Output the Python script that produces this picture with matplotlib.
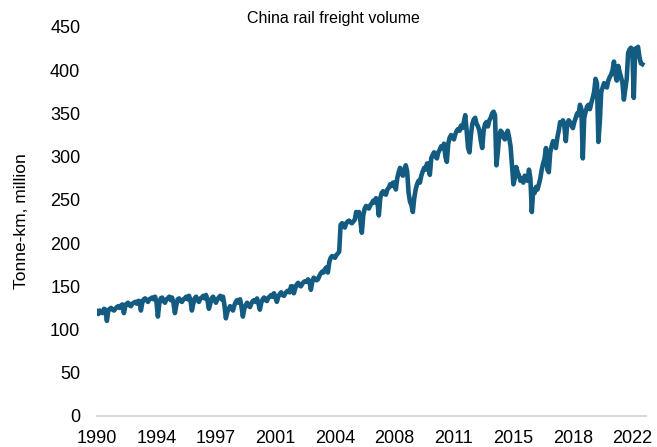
"""
China rail freight volume, monthly, 1990-2022
"""
import numpy as np
import matplotlib
matplotlib.use('Agg')
import matplotlib.pyplot as plt

plt.rcParams['font.family'] = ['Liberation Sans', 'DejaVu Sans']

# Monthly volumes (tonne-km, million); series starts Jul 1990
vol_1990 = [121, 118, 122, 120, 119, 124]
vol_1991 = [123, 110, 122, 124, 125, 123, 122, 124, 126, 127, 125, 128]
vol_1992 = [129, 119, 127, 130, 131, 128, 127, 130, 131, 132, 130, 133]
vol_1993 = [133, 122, 131, 135, 136, 134, 132, 135, 136, 137, 135, 138]
vol_1994 = [132, 115, 130, 136, 137, 133, 131, 135, 136, 138, 134, 137]
vol_1995 = [131, 119, 128, 135, 136, 133, 132, 135, 136, 138, 135, 139]
vol_1996 = [134, 122, 130, 136, 138, 134, 132, 136, 137, 139, 136, 140]
vol_1997 = [134, 124, 130, 136, 138, 134, 131, 135, 137, 139, 135, 138]
vol_1998 = [128, 113, 120, 124, 127, 125, 122, 128, 132, 134, 131, 135]
vol_1999 = [127, 115, 124, 128, 131, 128, 126, 130, 133, 134, 132, 136]
vol_2000 = [130, 123, 131, 135, 137, 134, 133, 137, 138, 140, 138, 142]
vol_2001 = [137, 132, 138, 141, 143, 140, 139, 142, 144, 145, 143, 150]
vol_2002 = [150, 142, 148, 152, 154, 151, 150, 153, 155, 156, 155, 158]
vol_2003 = [156, 146, 155, 160, 159, 157, 158, 162, 165, 167, 166, 170]
vol_2004 = [172, 166, 178, 183, 185, 184, 183, 186, 188, 190, 221, 223]
vol_2005 = [222, 218, 223, 225, 226, 224, 223, 225, 227, 236, 232, 236]
vol_2006 = [225, 212, 232, 240, 243, 241, 240, 244, 246, 249, 247, 252]
vol_2007 = [248, 232, 252, 258, 260, 257, 256, 262, 264, 268, 266, 270]
vol_2008 = [270, 262, 275, 282, 287, 280, 278, 285, 290, 283, 258, 248]
vol_2009 = [244, 236, 252, 262, 268, 272, 270, 278, 283, 287, 285, 292]
vol_2010 = [292, 279, 298, 302, 305, 300, 298, 305, 308, 312, 310, 315]
vol_2011 = [300, 294, 315, 322, 325, 322, 320, 326, 330, 332, 330, 336]
vol_2012 = [333, 340, 348, 330, 310, 305, 325, 338, 343, 345, 338, 335]
vol_2013 = [330, 318, 310, 330, 338, 340, 335, 342, 345, 350, 352, 348]
vol_2014 = [290, 305, 325, 330, 328, 322, 320, 326, 330, 322, 312, 290]
vol_2015 = [268, 275, 288, 282, 278, 272, 275, 270, 278, 276, 272, 285]
vol_2016 = [275, 236, 262, 258, 265, 262, 268, 275, 285, 292, 298, 310]
vol_2017 = [285, 282, 305, 312, 318, 315, 310, 322, 330, 340, 338, 342]
vol_2018 = [335, 318, 338, 342, 340, 336, 333, 340, 345, 350, 348, 360]
vol_2019 = [355, 298, 345, 352, 358, 360, 355, 362, 368, 375, 390, 385]
vol_2020 = [317, 340, 375, 380, 385, 383, 380, 388, 392, 395, 400, 410]
vol_2021 = [395, 388, 405, 398, 392, 385, 366, 378, 390, 420, 424, 426]
vol_2022 = [420, 368, 425, 424, 427, 415, 408, 407]

volume = np.array(vol_1990 + vol_1991 + vol_1992 + vol_1993 + vol_1994 + vol_1995
                  + vol_1996 + vol_1997 + vol_1998 + vol_1999 + vol_2000 + vol_2001
                  + vol_2002 + vol_2003 + vol_2004 + vol_2005 + vol_2006 + vol_2007
                  + vol_2008 + vol_2009 + vol_2010 + vol_2011 + vol_2012 + vol_2013
                  + vol_2014 + vol_2015 + vol_2016 + vol_2017 + vol_2018 + vol_2019
                  + vol_2020 + vol_2021 + vol_2022)
months = np.arange(len(volume))

# Category-style axis: a label every 42 months
tick_labels = ['1990', '1994', '1997', '2001', '2004', '2008', '2011', '2015', '2018', '2022']
tick_pos = np.arange(len(tick_labels)) * 42

fig = plt.figure(figsize=(6.57, 4.47), dpi=100)
ax = fig.add_axes([0.1476, 0.0694, 0.8354, 0.8702])

ax.plot(months, volume, color='#135B80', linewidth=3.3, solid_joinstyle='round')

ax.set_xlim(0, 387.5)
ax.set_ylim(0, 450)
ax.set_yticks(np.arange(0, 451, 50))
ax.set_xticks(tick_pos)
ax.set_xticklabels(tick_labels)

for side in ['top', 'right', 'left']:
    ax.spines[side].set_visible(False)
ax.spines['bottom'].set_color('#D9D9D9')
ax.spines['bottom'].set_linewidth(1.5)
ax.tick_params(axis='both', length=0, labelsize=13, colors='black')
ax.tick_params(axis='y', pad=12)
ax.tick_params(axis='x', pad=10)

ax.set_ylabel('Tonne-km, million', fontsize=12.5, labelpad=15)
fig.text(0.507, 0.958, 'China rail freight volume', ha='center', va='center', fontsize=11.5)

fig.savefig('out.png', dpi=100)
